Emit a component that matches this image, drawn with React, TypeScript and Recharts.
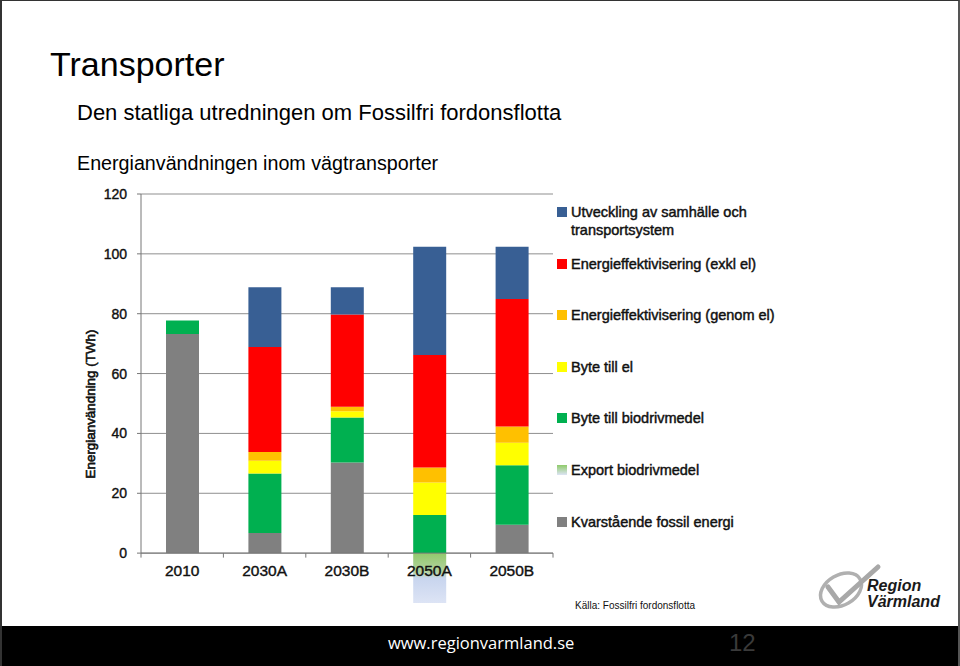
import React from "react";
import { Bar, BarChart, CartesianGrid, ReferenceLine, XAxis, YAxis } from "recharts";

const categories = ["2010", "2030A", "2030B", "2050A", "2050B"];

// TWh per scenario, stacked bottom to top
const fossil = [73.2, 6.7, 30.3, 0, 9.5];
const biofuel = [4.5, 19.9, 15.0, 12.7, 19.9];
const electric = [0, 4.3, 2.1, 10.9, 7.5];
const effViaEl = [0, 2.9, 1.5, 5.0, 5.4];
const effExclEl = [0, 35.1, 30.8, 37.6, 42.6];
const society = [0, 19.9, 9.1, 36.2, 17.5];
const exportBio = [0, 0, 0, -16.7, 0];

const yTicks = [0, 20, 40, 60, 80, 100, 120];

const series = [
  { key: "fossil", name: "Kvarstående fossil energi", values: fossil, color: "#808080" },
  { key: "biofuel", name: "Byte till biodrivmedel", values: biofuel, color: "#00b050" },
  { key: "electric", name: "Byte till el", values: electric, color: "#ffff00" },
  { key: "effViaEl", name: "Energieffektivisering (genom el)", values: effViaEl, color: "#ffc000" },
  { key: "effExclEl", name: "Energieffektivisering (exkl el)", values: effExclEl, color: "#ff0000" },
  { key: "society", name: "Utveckling av samhälle och transportsystem", values: society, color: "#385f94" },
  { key: "exportBio", name: "Export biodrivmedel", values: exportBio, color: "url(#exportFill)" },
];

const legendOrder = ["society", "effExclEl", "effViaEl", "electric", "biofuel", "exportBio", "fossil"];

const data = categories.map((category, i) => {
  const row: Record<string, string | number> = { category };
  for (const s of series) row[s.key] = s.values[i];
  return row;
});

const font = "'Liberation Sans', Arial, Helvetica, sans-serif";
const heavy = { WebkitTextStroke: "0.45px #111" } as React.CSSProperties;

function XTick(props: any) {
  const { x, y, payload } = props;
  return (
    <text
      x={x}
      y={y - 28}
      textAnchor="middle"
      fontSize={15.5}
      fill="#111"
      stroke="#111"
      strokeWidth={0.4}
      fontFamily={font}
    >
      {payload.value}
    </text>
  );
}

function Logo() {
  return (
    <div style={{ position: "absolute", left: 812, top: 560, width: 130, height: 52 }}>
      <svg width={70} height={52} style={{ position: "absolute", left: 0, top: 0 }}>
        <ellipse cx={27} cy={29} rx={22} ry={15} transform="rotate(-30 27 29)" fill="none" stroke="#b0b0b0" strokeWidth={3.5} />
        <path d="M14 26 L25 41 L64 6" fill="none" stroke="#a8a8a8" strokeWidth={5} strokeLinecap="round" />
      </svg>
      <div
        style={{
          position: "absolute",
          left: 53,
          top: 17,
          fontFamily: font,
          fontWeight: "bold",
          fontStyle: "italic",
          fontSize: 16,
          lineHeight: "16px",
          color: "#1a1a1a",
        }}
      >
        Region
        <br />
        Värmland
      </div>
    </div>
  );
}

export default function App() {
  const byKey = new Map(series.map((s) => [s.key, s]));
  return (
    <div
      style={{
        position: "absolute",
        left: 0,
        top: 0,
        width: 960,
        height: 666,
        background: "#fff",
        overflow: "hidden",
        fontFamily: font,
        boxSizing: "border-box",
        borderLeft: "2px solid #333",
        borderTop: "1px solid #333",
        borderRight: "2px solid #555",
      }}
    >
      <div style={{ position: "absolute", left: 48, top: 44, fontSize: 34, color: "#000" }}>Transporter</div>
      <div style={{ position: "absolute", left: 75, top: 99, fontSize: 22, color: "#000" }}>
        Den statliga utredningen om Fossilfri fordonsflotta
      </div>
      <div style={{ position: "absolute", left: 75, top: 151, fontSize: 19.7, color: "#000" }}>
        Energianvändningen inom vägtransporter
      </div>

      <div
        style={{
          position: "absolute",
          left: 88,
          top: 403,
          transform: "translate(-50%, -50%) rotate(-90deg)",
          whiteSpace: "nowrap",
          fontSize: 13.4,
          color: "#111",
          WebkitTextStroke: "0.6px #111",
        }}
      >
        Energianvändning (TWh)
      </div>

      <div style={{ position: "absolute", left: -2, top: 180 }}>
        <BarChart
          width={560}
          height={443}
          data={data}
          stackOffset="sign"
          barSize={33}
          margin={{ top: 13, right: 7, bottom: 0, left: 100 }}
        >
          <defs>
            <linearGradient id="exportFill" x1="0" y1="0" x2="0" y2="1">
              <stop offset="0%" stopColor="#92c96c" />
              <stop offset="38%" stopColor="#b5d3a2" />
              <stop offset="50%" stopColor="#c8d5ee" />
              <stop offset="100%" stopColor="#dde4f5" />
            </linearGradient>
          </defs>
          <CartesianGrid vertical={false} stroke="#8f8f8f" horizontalValues={yTicks} />
          <YAxis
            type="number"
            domain={[-17, 120]}
            ticks={yTicks}
            width={41}
            axisLine={false}
            tickSize={4}
            tickMargin={10}
            tickLine={{ stroke: "#777" }}
            tick={{ fontSize: 14, fill: "#111", stroke: "#111", strokeWidth: 0.4, fontFamily: font }}
          />
          {series.map((s) => (
            <Bar key={s.key} dataKey={s.key} name={s.name} stackId="energy" fill={s.color} isAnimationActive={false} />
          ))}
          <ReferenceLine
            segment={[
              { x: categories[0], y: 0 },
              { x: categories[0], y: 120 },
            ]}
            position="start"
            stroke="#777"
          />
          <ReferenceLine y={0} stroke="#777" />
          {categories.map((c) => (
            <ReferenceLine
              key={c}
              segment={[
                { x: c, y: 0 },
                { x: c, y: -1.5 },
              ]}
              position="start"
              stroke="#777"
            />
          ))}
          <ReferenceLine
            segment={[
              { x: categories[categories.length - 1], y: 0 },
              { x: categories[categories.length - 1], y: -1.5 },
            ]}
            position="end"
            stroke="#777"
          />
          <XAxis dataKey="category" height={20} axisLine={false} tickLine={false} tickSize={0} tickMargin={0} tick={<XTick />} />
        </BarChart>
      </div>

      <div style={{ position: "absolute", left: 555, top: 202 }}>
        {legendOrder.map((k) => {
          const s = byKey.get(k)!;
          const swatch = s.key === "exportBio" ? "linear-gradient(#8fcb6a, #dde4f5)" : s.color;
          return (
            <div key={k} style={{ height: 51.6, display: "flex", alignItems: "flex-start" }}>
              <div style={{ width: 10, height: 10, background: swatch, marginTop: 4, marginRight: 4, flex: "none" }} />
              <div style={{ fontSize: 14.5, lineHeight: "18px", color: "#111", width: 215, ...heavy }}>{s.name}</div>
            </div>
          );
        })}
      </div>

      <div style={{ position: "absolute", left: 573, top: 599, fontSize: 10, color: "#111" }}>
        Källa: Fossilfri fordonsflotta
      </div>

      <Logo />

      <div style={{ position: "absolute", left: -2, top: 625, width: 962, height: 41, background: "#000" }}>
        <div
          style={{
            position: "absolute",
            left: 388,
            top: 5,
            fontFamily: "'Open Sans', sans-serif",
            fontSize: 16.5,
            color: "#fff",
          }}
        >
          www.regionvarmland.se
        </div>
        <div style={{ position: "absolute", left: 729, top: 3, fontSize: 24, color: "#3a3a3a" }}>12</div>
      </div>
    </div>
  );
}
